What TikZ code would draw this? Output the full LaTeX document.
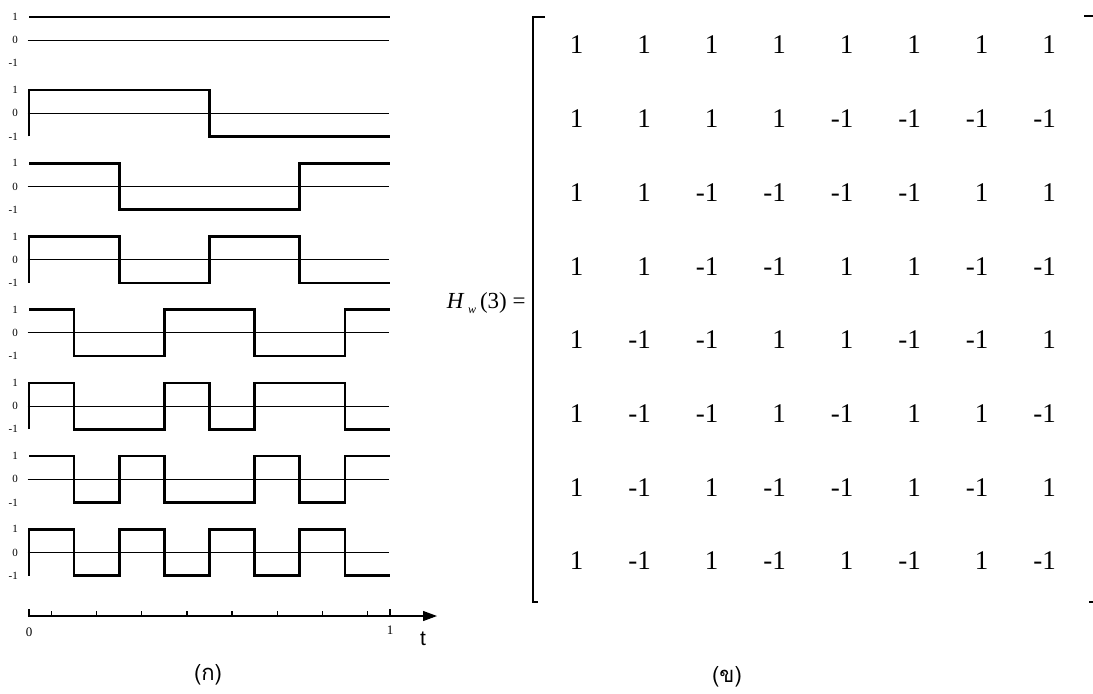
\documentclass[tikz,border=0pt]{standalone}
\usepackage{fontspec}
\setmainfont{Liberation Serif}
\newfontfamily\sansfont{Liberation Sans}
\newfontfamily\thaifont[Script=Thai]{Loma}
\usetikzlibrary{arrows.meta}

\tikzset{
  wave/.style={line width=1.3pt, line join=miter},
  zeroline/.style={line width=0.5pt},
  sigrow/.style={shift={(29,{40+73.2*(#1-1)})}, xscale=45.125, yscale=-23.2},
  ylbl/.style={anchor=east, inner sep=0pt, font=\fontsize{5.5}{6}\selectfont},
  tlbl/.style={inner sep=0pt, font=\fontsize{6.5}{7}\selectfont},
  entry/.style={anchor=east, inner sep=0pt, font=\fontsize{13.5}{15}\selectfont},
  brk/.style={line width=1.2pt},
  captext/.style={inner sep=0pt, font=\thaifont\fontsize{11}{12}\selectfont}
}

\begin{document}
\begin{tikzpicture}[x=0.5pt,y=-0.5pt]
\useasboundingbox (0,0) rectangle (1093,693);

% zero lines and level labels
\foreach \r in {1,...,8} {
  \begin{scope}[sigrow=\r]
    \draw[zeroline] (-0.03,0) -- (7.98,0);
    \node[ylbl] (lp-\r) at (-0.24,1) {1};
    \node[ylbl] (lz-\r) at (-0.24,0) {0};
    \node[ylbl] (ln-\r) at (-0.24,-1) {-1};
  \end{scope}
}

% the eight waveforms
\draw[wave,sigrow=1] (0,1) -- (8,1);
\draw[wave,sigrow=2] (0,-1) |- (4,1) |- (8,-1);
\draw[wave,sigrow=3] (0,1) -| (2,-1) -| (6,1) -- (8,1);
\draw[wave,sigrow=4] (0,-1) |- (2,1) |- (4,-1) |- (6,1) |- (8,-1);
\draw[wave,sigrow=5] (0,1) -| (1,-1) -| (3,1) -| (5,-1) -| (7,1) -- (8,1);
\draw[wave,sigrow=6] (0,-1) |- (1,1) |- (3,-1) |- (4,1) |- (5,-1) |- (7,1) |- (8,-1);
\draw[wave,sigrow=7] (0,1) -| (1,-1) -| (2,1) -| (3,-1) -| (5,1) -| (6,-1) -| (7,1) -- (8,1);
\draw[wave,sigrow=8] (0,-1) |- (1,1) |- (2,-1) |- (3,1) |- (4,-1) |- (5,1) |- (6,-1) |- (7,1) |- (8,-1);

% time axis
\coordinate (t0) at (29,616);
\coordinate (tend) at (437,616);
\draw[line width=0.6pt, -{Triangle[length=7pt,width=5pt]}] (t0) -- (tend);
\draw[line width=0.6pt] (29,609) -- (29,617) (390,609) -- (390,617);
\foreach \k in {0,...,7}
  \draw[line width=0.6pt] ({29+22.56*(2*\k+1)},611) -- ({29+22.56*(2*\k+1)},616);
\node[tlbl] (ax0) at (29,632) {0};
\node[tlbl] (ax1) at (390,630) {1};
\node[inner sep=0pt, font=\sansfont\fontsize{10.5}{12}\selectfont] (axt) at (423,639) {t};
\node[captext] (capa) at (208,675) {(ก)};

% matrix
\draw[brk] (545,17) -- (533,17) -- (533,602) -- (538,602);
\draw[brk] (1084,16) -- (1093,16);
\draw[line width=0.6pt] (1089,602) -- (1093,602);
\node[anchor=east, inner sep=0pt, font=\fontsize{11.5}{13}\selectfont] (hw) at (526,303)
  {\textit{H}\,\raisebox{-2.5pt}{\fontsize{6}{7}\selectfont\itshape w}\,(3) =};
\foreach \r/\vals in {1/{1,1,1,1,1,1,1,1}, 2/{1,1,1,1,-1,-1,-1,-1},
    3/{1,1,-1,-1,-1,-1,1,1}, 4/{1,1,-1,-1,1,1,-1,-1},
    5/{1,-1,-1,1,1,-1,-1,1}, 6/{1,-1,-1,1,-1,1,1,-1},
    7/{1,-1,1,-1,-1,1,-1,1}, 8/{1,-1,1,-1,1,-1,1,-1}}
  \foreach \v [count=\c] in \vals
    \node[entry] (m-\r-\c) at ({583.8+67.5*(\c-1)},{45+73.7*(\r-1)}) {\v};
\node[captext] (capb) at (727,677) {(ข)};
\end{tikzpicture}
\end{document}
